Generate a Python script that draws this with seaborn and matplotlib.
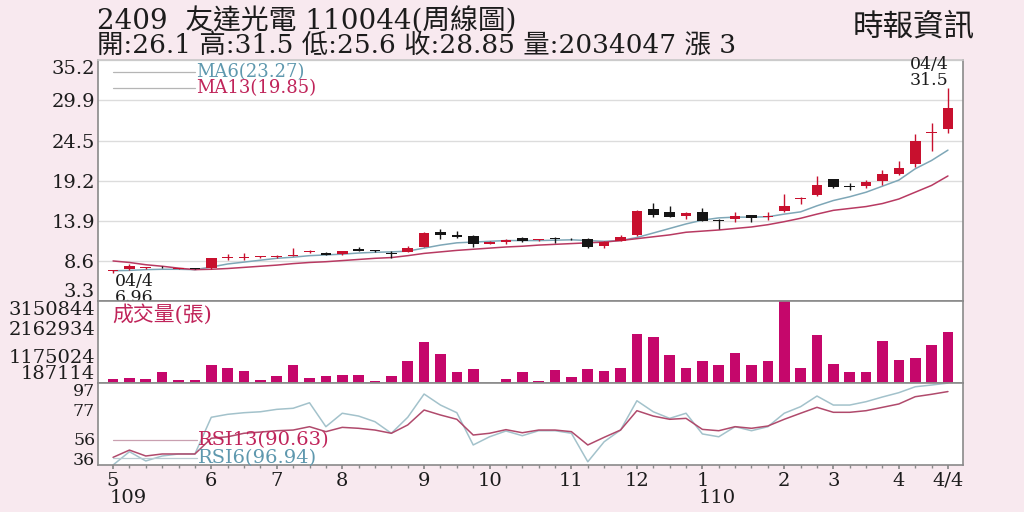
import matplotlib
matplotlib.use("Agg")
import matplotlib.pyplot as plt
import matplotlib.transforms as mtransforms
import numpy as np
import pandas as pd
import seaborn as sns

# ---------------- data ----------------
weeks = list(range(52))
opens = [7.30, 7.55, 7.70, 7.80, 7.60, 7.60, 7.70, 9.00, 9.00, 9.12,
         9.10, 9.30, 9.80, 9.65, 9.55, 10.20, 10.00, 9.55, 9.80, 10.50,
         12.40, 12.10, 11.90, 10.90, 11.15, 11.60, 11.35, 11.57, 11.55, 11.45,
         10.60, 11.30, 12.00, 15.45, 15.10, 14.60, 15.10, 14.00, 14.10, 14.65,
         14.45, 15.20, 16.85, 17.30, 19.45, 18.55, 18.50, 19.20, 20.10, 21.40,
         25.55, 26.10]
highs = [7.45, 8.15, 7.85, 7.90, 7.70, 7.65, 9.00, 9.50, 9.60, 9.25,
         9.35, 10.35, 10.10, 9.75, 9.95, 10.40, 10.10, 9.90, 10.60, 12.40,
         12.80, 12.50, 12.00, 11.20, 11.50, 11.80, 11.45, 11.80, 11.65, 11.60,
         11.20, 12.10, 15.30, 16.30, 15.90, 15.10, 15.60, 14.20, 15.10, 14.70,
         15.10, 17.40, 17.10, 19.90, 19.50, 18.90, 19.30, 20.60, 21.80, 25.35,
         26.80, 31.50]
lows = [6.96, 7.40, 7.60, 7.70, 7.50, 7.50, 7.60, 8.70, 8.70, 9.05,
        9.05, 9.25, 9.60, 9.35, 9.40, 9.90, 9.85, 8.95, 9.75, 10.40,
        11.45, 11.70, 10.40, 10.80, 10.90, 11.10, 11.30, 11.00, 11.40, 10.30,
        10.35, 11.20, 11.90, 14.40, 14.40, 14.10, 13.90, 12.85, 13.70, 13.80,
        14.00, 15.10, 16.20, 17.20, 18.20, 18.00, 18.30, 18.70, 20.00, 21.06,
        23.10, 25.60]
closes = [7.32, 7.90, 7.72, 7.75, 7.62, 7.55, 8.95, 9.05, 9.05, 9.20,
          9.30, 9.35, 9.82, 9.40, 9.95, 9.95, 9.87, 9.50, 10.35, 12.35,
          12.10, 11.80, 10.85, 11.10, 11.40, 11.20, 11.40, 11.53, 11.45, 10.50,
          11.15, 11.80, 15.25, 14.70, 14.40, 15.00, 13.95, 13.95, 14.50, 14.30,
          14.55, 15.90, 16.95, 18.70, 18.40, 18.45, 19.00, 20.05, 20.90, 24.50,
          25.65, 28.85]
ma6 = [7.30, 7.35, 7.45, 7.50, 7.50, 7.45, 7.80, 8.20, 8.45, 8.70,
       8.95, 9.10, 9.30, 9.40, 9.50, 9.65, 9.75, 9.80, 9.90, 10.30,
       10.70, 11.00, 11.10, 11.20, 11.30, 11.30, 11.30, 11.35, 11.40, 11.30,
       11.20, 11.30, 11.70, 12.30, 12.90, 13.50, 14.00, 14.30, 14.40, 14.40,
       14.45, 14.80, 15.10, 15.90, 16.60, 17.10, 17.70, 18.50, 19.30, 20.80,
       21.90, 23.27]
ma13 = [8.60, 8.40, 8.10, 7.90, 7.65, 7.45, 7.50, 7.60, 7.75, 7.90,
        8.05, 8.25, 8.40, 8.50, 8.65, 8.80, 8.95, 9.05, 9.30, 9.60,
        9.80, 10.00, 10.15, 10.30, 10.45, 10.55, 10.70, 10.80, 10.90, 11.00,
        11.10, 11.30, 11.55, 11.80, 12.05, 12.40, 12.55, 12.70, 12.90, 13.10,
        13.40, 13.80, 14.25, 14.80, 15.30, 15.55, 15.80, 16.20, 16.80, 17.70,
        18.60, 19.85]
volume = [343000, 380000, 332000, 587000, 285000, 285000, 852000, 732000, 634000, 285000,
          441000, 830000, 369000, 430000, 489000, 467000, 260000, 452000, 997000, 1687000,
          1251000, 587000, 685000, 187114, 343000, 576000, 271000, 659000, 416000, 696000,
          612000, 743000, 1956000, 1832000, 1215000, 732000, 975000, 830000, 1277000, 830000,
          997000, 3150844, 721000, 1920000, 877000, 597000, 576000, 1702000, 1011000, 1084000,
          1578000, 2034047]
rsi6 = [36.0, 45.9, 39.0, 42.7, 44.2, 44.2, 71.5, 73.7, 74.9, 75.6,
        77.4, 78.2, 82.3, 64.5, 74.5, 72.4, 68.2, 59.6, 71.5, 88.8,
        80.6, 74.9, 50.9, 57.0, 61.3, 57.8, 61.5, 61.5, 59.6, 38.4,
        53.3, 62.0, 83.8, 75.6, 70.7, 74.5, 59.1, 57.0, 64.5, 61.5,
        64.5, 74.5, 79.4, 87.3, 80.6, 80.6, 83.1, 86.6, 89.8, 94.2,
        95.5, 96.94]
rsi13 = [41.7, 47.1, 42.7, 44.2, 44.2, 44.2, 55.9, 57.0, 59.6, 60.5,
         61.5, 62.0, 64.5, 60.8, 64.0, 63.3, 62.0, 59.6, 65.8, 76.9,
         73.2, 70.0, 58.3, 59.6, 62.3, 60.0, 62.0, 62.0, 60.8, 50.9,
         56.6, 62.0, 76.4, 72.4, 70.0, 70.7, 62.5, 61.5, 64.5, 63.3,
         65.0, 70.0, 74.5, 78.9, 75.2, 75.2, 76.4, 78.9, 81.4, 86.8,
         88.6, 90.63]

month_pos = [0, 6, 10, 14, 19, 23, 28, 32, 36, 41, 44, 48, 51]
month_labels = ['5', '6', '7', '8', '9', '10', '11', '12', '1', '2', '3', '4', '4/4']
year_pos = [0, 36]
year_labels = ['109', '110']
price_ticks = [3.3, 8.6, 13.9, 19.2, 24.5, 29.9, 35.2]
price_tick_labels = ['3.3', '8.6', '13.9', '19.2', '24.5', '29.9', '35.2']
vol_ticks = [187114, 1175024, 2162934, 3150844]
vol_tick_labels = ['187114', '1175024', '2162934', '3150844']
rsi_ticks = [36, 56, 77, 97]
rsi_tick_labels = ['36', '56', '77', '97']

title_text = '2409  友達光電 110044(周線圖)'
info_text = '開:26.1 高:31.5 低:25.6 收:28.85 量:2034047 漲 3'
source_text = '時報資訊'

# ---------------- styling ----------------
sns.set_theme(style='white')
plt.rcParams['font.family'] = ['DejaVu Serif', 'Noto Sans CJK TC']
plt.rcParams['axes.unicode_minus'] = False

BG = '#f8e9ef'
RED = '#c8102e'
BLACK = '#151515'
VOLC = '#c5076b'
MA6C = '#7ea7b7'
MA6T = '#5e98ae'
MA13C = '#b83a62'
MA13T = '#c0245a'
RSI6C = '#a3c2cb'
RSI13C = '#b04a6c'
SPINE = '#8a8a8a'
TXT = '#1c1c1c'

fig = plt.figure(figsize=(10.24, 5.12), dpi=100, facecolor=BG)
L = 98 / 1024
W = 865 / 1024
axP = fig.add_axes([L, 1 - 301 / 512, W, 241 / 512])
axV = fig.add_axes([L, 1 - 383 / 512, W, 82 / 512])
axR = fig.add_axes([L, 1 - 465 / 512, W, 82 / 512])
XL = (-0.92, 51.92)

df = pd.DataFrame({'week': weeks, 'open': opens, 'high': highs, 'low': lows,
                   'close': closes, 'ma6': ma6, 'ma13': ma13, 'volume': volume,
                   'rsi6': rsi6, 'rsi13': rsi13})

# ---- price panel ----
axP.set_facecolor('white')
sns.lineplot(data=df, x='week', y='ma6', ax=axP, color=MA6C, lw=1.1, zorder=2)
sns.lineplot(data=df, x='week', y='ma13', ax=axP, color=MA13C, lw=1.1, zorder=2)
up = df['close'] >= df['open']
cols = np.where(up, RED, BLACK)
body_bot = np.minimum(df['open'], df['close'])
body_h = np.maximum(np.abs(df['close'] - df['open']), 0.1)
axP.vlines(df['week'], df['low'], df['high'], colors=cols, lw=1.0, zorder=3)
axP.bar(df['week'], body_h, bottom=body_bot, width=0.65, color=cols, lw=0, zorder=4)
axP.set_xlim(*XL)
axP.set_ylim(3.3, 35.2)
axP.set_yticks(price_ticks, labels=price_tick_labels)
axP.grid(axis='y', color='#dcdcdc', lw=1.0)
axP.grid(axis='x', visible=False)
axP.set_xticks([])
axP.set_xlabel('')
axP.set_ylabel('')
# legend-like lines + labels
axP.plot([0.017, 0.112], [0.951, 0.951], transform=axP.transAxes, color='#b5b5b5', lw=0.9)
axP.plot([0.017, 0.112], [0.883, 0.883], transform=axP.transAxes, color='#b5b5b5', lw=0.9)
axP.text(0.114, 0.951, 'MA6(23.27)', transform=axP.transAxes, color=MA6T, fontsize=13, va='center')
axP.text(0.114, 0.883, 'MA13(19.85)', transform=axP.transAxes, color=MA13T, fontsize=13, va='center')
axP.text(0.983, 0.982, '04/4', transform=axP.transAxes, color=TXT, fontsize=12.5, ha='right', va='center')
axP.text(0.983, 0.913, '31.5', transform=axP.transAxes, color=TXT, fontsize=12.5, ha='right', va='center')
axP.text(0.019, 0.082, '04/4', transform=axP.transAxes, color=TXT, fontsize=12.5, ha='left', va='center')
axP.text(0.019, 0.016, '6.96', transform=axP.transAxes, color=TXT, fontsize=12.5, ha='left', va='center')

# ---- volume panel ----
axV.set_facecolor('white')
sns.barplot(data=df, x='week', y='volume', ax=axV, color=VOLC, saturation=1,
            width=0.65, native_scale=True, linewidth=0, errorbar=None)
axV.set_xlim(*XL)
axV.set_ylim(187114, 3150844)
axV.set_yticks(vol_ticks, labels=vol_tick_labels)
axV.set_xticks([])
axV.set_xlabel('')
axV.set_ylabel('')
axV.text(0.017, 0.84, '成交量(張)', transform=axV.transAxes, color=MA13T, fontsize=15, va='center')

# ---- RSI panel ----
axR.set_facecolor('white')
sns.lineplot(data=df, x='week', y='rsi6', ax=axR, color=RSI6C, lw=1.1)
sns.lineplot(data=df, x='week', y='rsi13', ax=axR, color=RSI13C, lw=1.1)
axR.set_xlim(*XL)
axR.set_ylim(36, 97)
axR.set_yticks(rsi_ticks, labels=rsi_tick_labels)
axR.set_xticks(month_pos, labels=month_labels)
axR.set_xticks(weeks, minor=True)
axR.set_xlabel('')
axR.set_ylabel('')
axR.plot([0.017, 0.114], [0.305, 0.305], transform=axR.transAxes, color='#c9a0b0', lw=0.9)
axR.plot([0.017, 0.114], [0.085, 0.085], transform=axR.transAxes, color='#b9ccd2', lw=0.9)
axR.text(0.116, 0.305, 'RSI13(90.63)', transform=axR.transAxes, color=MA13T, fontsize=14, va='center')
axR.text(0.116, 0.085, 'RSI6(96.94)', transform=axR.transAxes, color=MA6T, fontsize=14, va='center')
blend = mtransforms.blended_transform_factory(axR.transData, axR.transAxes)
for p, lab in zip(year_pos, year_labels):
    axR.text(p - 0.2, -0.40, lab, transform=blend, fontsize=14, color=TXT, ha='left', va='center')

# ---- common axis styling ----
for ax in (axP, axV, axR):
    for s in ax.spines.values():
        s.set_color(SPINE)
        s.set_linewidth(1.2)
        s.set_visible(True)
    ax.tick_params(axis='y', labelsize=14, length=0, pad=2, colors=TXT)
axR.tick_params(axis='y', labelsize=12.5)
axP.spines['top'].set_color('#c8c8c8')
axR.tick_params(axis='x', which='major', labelsize=14, length=3, pad=2, colors=TXT,
                direction='out', color=SPINE)
axR.tick_params(axis='x', which='minor', length=2, direction='out', color=SPINE, bottom=True)
axR.tick_params(axis='x', which='major', bottom=True)

# vertical alignment of extreme tick labels (kept inside their panels)
for ax in (axP, axV):
    labs = ax.get_yticklabels()
    labs[0].set_va('bottom')
    labs[-1].set_va('top')
rlabs = axR.get_yticklabels()
rlabs[0].set_va('baseline')
rlabs[-1].set_va('top')

# ---- header ----
fig.text(97 / 1024, 1 - 22 / 512, title_text, fontsize=20, color=TXT, va='center', ha='left')
fig.text(97 / 1024, 1 - 46 / 512, info_text, fontsize=19, color=TXT, va='center', ha='left')
fig.text(975 / 1024, 1 - 28 / 512, source_text, fontsize=22, color=TXT, va='center', ha='right')

fig.savefig('out.png', dpi=100, facecolor=BG)
